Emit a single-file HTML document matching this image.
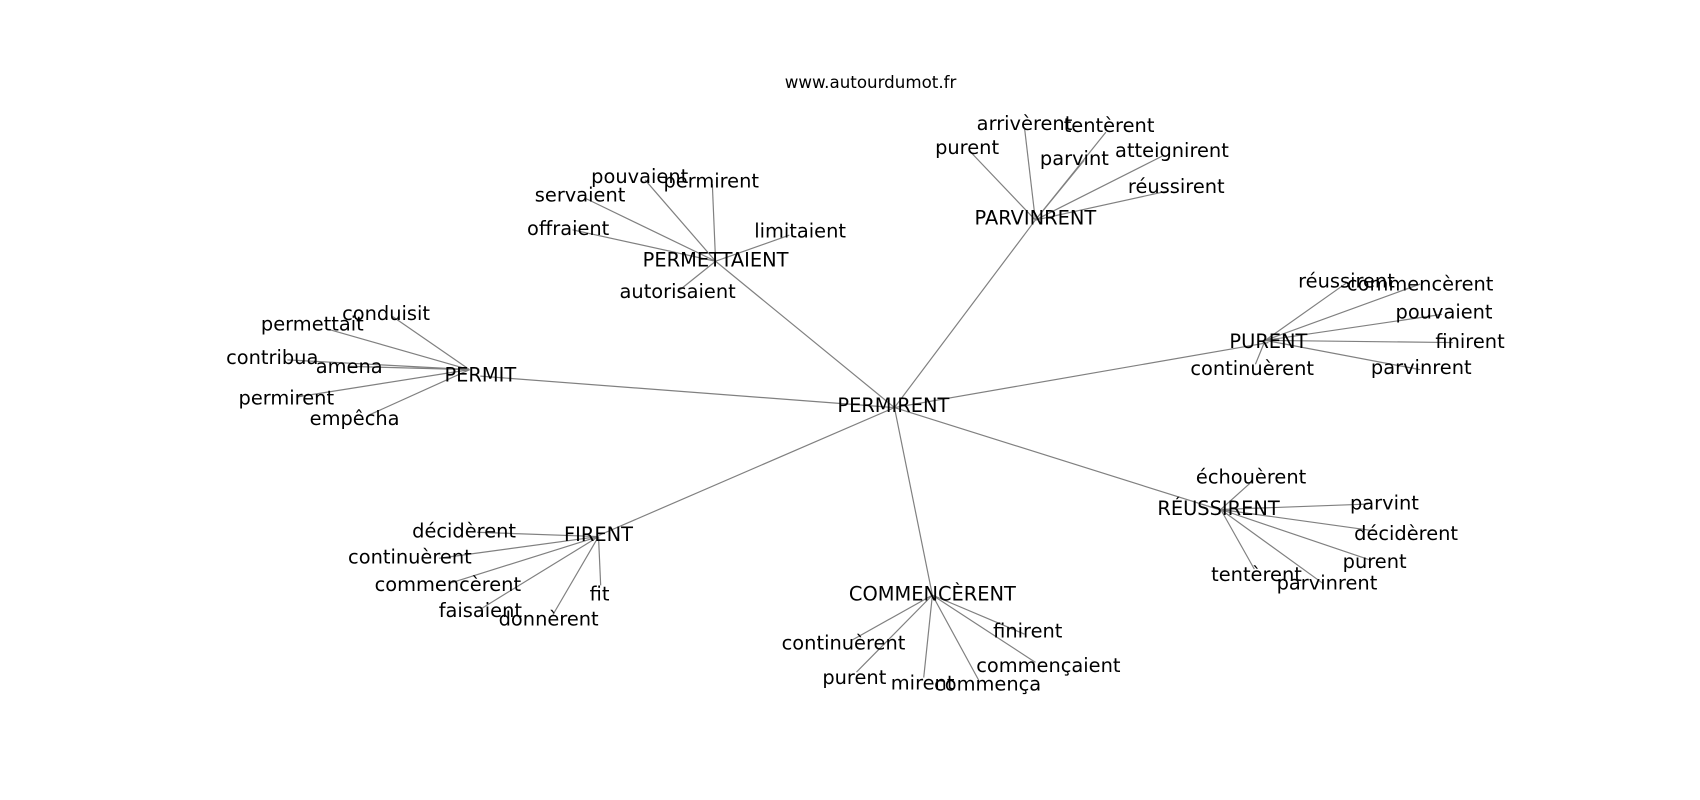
<!DOCTYPE html>
<html><head><meta charset="utf-8"><style>
html,body{margin:0;padding:0;background:#fff;}
svg{display:block;}
text{font-family:"DejaVu Sans","Liberation Sans",sans-serif;fill:#000;}
</style></head><body>
<svg width="1700" height="800" viewBox="0 0 1568 738" xmlns="http://www.w3.org/2000/svg">
<g stroke="#808080" stroke-width="1.1" fill="none">
<line x1="825" y1="376" x2="955" y2="203"/>
<line x1="825" y1="376" x2="660" y2="241"/>
<line x1="825" y1="376" x2="443" y2="347"/>
<line x1="825" y1="376" x2="1170" y2="316"/>
<line x1="825" y1="376" x2="1124" y2="470"/>
<line x1="825" y1="376" x2="552" y2="494"/>
<line x1="825" y1="376" x2="860" y2="549"/>
<line x1="955" y1="203" x2="895" y2="140"/>
<line x1="955" y1="203" x2="945" y2="118"/>
<line x1="955" y1="203" x2="1020" y2="122"/>
<line x1="955" y1="203" x2="1000" y2="148"/>
<line x1="955" y1="203" x2="1072" y2="144"/>
<line x1="955" y1="203" x2="1078" y2="176"/>
<line x1="660" y1="241" x2="595" y2="166"/>
<line x1="660" y1="241" x2="657" y2="170"/>
<line x1="660" y1="241" x2="540" y2="183"/>
<line x1="660" y1="241" x2="528" y2="212"/>
<line x1="660" y1="241" x2="728" y2="217"/>
<line x1="660" y1="241" x2="625" y2="269"/>
<line x1="433" y1="341" x2="362" y2="292"/>
<line x1="433" y1="341" x2="300" y2="303"/>
<line x1="433" y1="341" x2="265" y2="332"/>
<line x1="433" y1="341" x2="322" y2="338"/>
<line x1="433" y1="341" x2="275" y2="366"/>
<line x1="433" y1="341" x2="340" y2="383"/>
<line x1="1167" y1="314" x2="1242" y2="261"/>
<line x1="1167" y1="314" x2="1310" y2="262"/>
<line x1="1167" y1="314" x2="1330" y2="290"/>
<line x1="1167" y1="314" x2="1340" y2="316"/>
<line x1="1167" y1="314" x2="1310" y2="341"/>
<line x1="1167" y1="314" x2="1158" y2="336"/>
<line x1="1126" y1="470" x2="1155" y2="444"/>
<line x1="1126" y1="470" x2="1262" y2="465"/>
<line x1="1126" y1="470" x2="1270" y2="490"/>
<line x1="1126" y1="470" x2="1265" y2="517"/>
<line x1="1126" y1="470" x2="1220" y2="538"/>
<line x1="1126" y1="470" x2="1157" y2="525"/>
<line x1="552" y1="495" x2="440" y2="491"/>
<line x1="552" y1="495" x2="405" y2="515"/>
<line x1="552" y1="495" x2="415" y2="538"/>
<line x1="552" y1="495" x2="443" y2="562"/>
<line x1="552" y1="495" x2="510" y2="567"/>
<line x1="552" y1="495" x2="554" y2="540"/>
<line x1="860" y1="549" x2="785" y2="591"/>
<line x1="860" y1="549" x2="790" y2="620"/>
<line x1="860" y1="549" x2="852" y2="625"/>
<line x1="860" y1="549" x2="903" y2="628"/>
<line x1="860" y1="549" x2="945" y2="585"/>
<line x1="860" y1="549" x2="955" y2="611"/>
</g>
<g font-size="17.9" text-anchor="middle" dominant-baseline="central">
<text x="803" y="76" font-size="15.4">www.autourdumot.fr</text>
<text x="824" y="374">PERMIRENT</text>
<text x="955" y="201">PARVINRENT</text>
<text x="892" y="136">purent</text>
<text x="945" y="114">arrivèrent</text>
<text x="1023" y="116">tentèrent</text>
<text x="991" y="146">parvint</text>
<text x="1081" y="139">atteignirent</text>
<text x="1085" y="172">réussirent</text>
<text x="660" y="240">PERMETTAIENT</text>
<text x="590" y="163">pouvaient</text>
<text x="656" y="167">permirent</text>
<text x="535" y="180">servaient</text>
<text x="524" y="211">offraient</text>
<text x="738" y="213">limitaient</text>
<text x="625" y="269">autorisaient</text>
<text x="443" y="346">PERMIT</text>
<text x="356" y="289">conduisit</text>
<text x="288" y="299">permettait</text>
<text x="251" y="330">contribua</text>
<text x="322" y="338">amena</text>
<text x="264" y="367">permirent</text>
<text x="327" y="386">empêcha</text>
<text x="1170" y="315">PURENT</text>
<text x="1242" y="259">réussirent</text>
<text x="1310" y="262">commencèrent</text>
<text x="1332" y="288">pouvaient</text>
<text x="1356" y="315">finirent</text>
<text x="1311" y="339">parvinrent</text>
<text x="1155" y="340">continuèrent</text>
<text x="1124" y="469">RÉUSSIRENT</text>
<text x="1154" y="440">échouèrent</text>
<text x="1277" y="464">parvint</text>
<text x="1297" y="492">décidèrent</text>
<text x="1268" y="518">purent</text>
<text x="1224" y="538">parvinrent</text>
<text x="1159" y="530">tentèrent</text>
<text x="552" y="493">FIRENT</text>
<text x="428" y="490">décidèrent</text>
<text x="378" y="514">continuèrent</text>
<text x="413" y="539">commencèrent</text>
<text x="443" y="563">faisaient</text>
<text x="506" y="571">donnèrent</text>
<text x="553" y="548">fit</text>
<text x="860" y="548">COMMENCÈRENT</text>
<text x="778" y="593">continuèrent</text>
<text x="788" y="625">purent</text>
<text x="851" y="630">mirent</text>
<text x="911" y="631">commença</text>
<text x="948" y="582">finirent</text>
<text x="967" y="614">commençaient</text>
</g>
</svg>
</body></html>
